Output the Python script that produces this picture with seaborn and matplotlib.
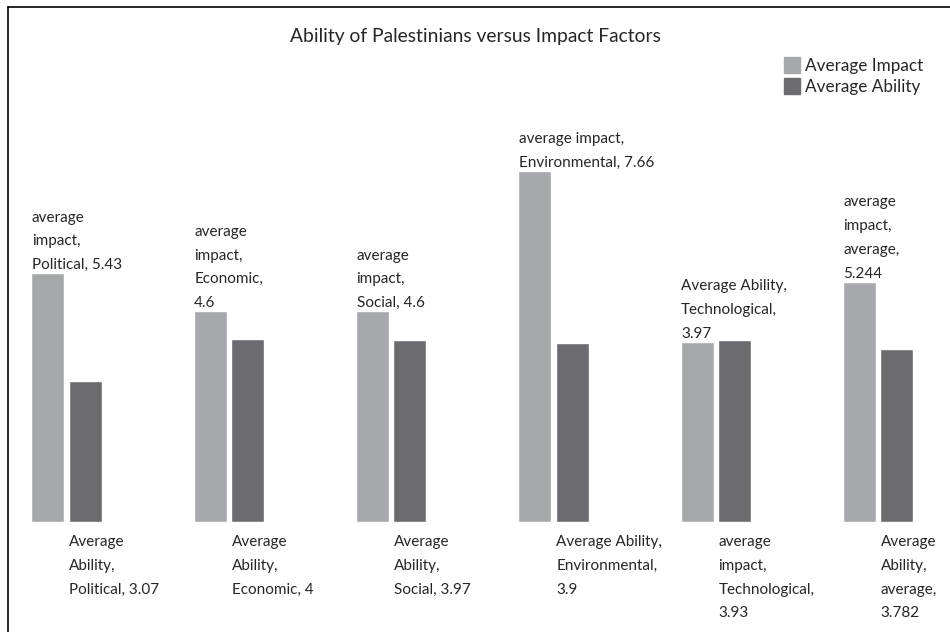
import matplotlib.pyplot as plt
import matplotlib.patches as mpatches
import seaborn as sns
import pandas as pd

categories = ['Political', 'Economic', 'Social', 'Environmental', 'Technological', 'average']
impact = [5.43, 4.6, 4.6, 7.66, 3.93, 5.244]
ability = [3.07, 4, 3.97, 3.9, 3.97, 3.782]
series = ['Average Impact', 'Average Ability']
colors = ['#A7A8AC', '#6B6B70']

# labels as they appear in the chart (above the light bars, below the dark bars)
top_labels = [
    'average\nimpact,\nPolitical, 5.43',
    'average\nimpact,\nEconomic,\n4.6',
    'average\nimpact,\nSocial, 4.6',
    'average impact,\nEnvironmental, 7.66',
    'Average Ability,\nTechnological,\n3.97',
    'average\nimpact,\naverage,\n5.244',
]
bottom_labels = [
    'Average\nAbility,\nPolitical, 3.07',
    'Average\nAbility,\nEconomic, 4',
    'Average\nAbility,\nSocial, 3.97',
    'Average Ability,\nEnvironmental,\n3.9',
    'average\nimpact,\nTechnological,\n3.93',
    'Average\nAbility,\naverage,\n3.782',
]

df = pd.DataFrame({
    'category': categories * 2,
    'value': impact + ability,
    'series': [series[0]] * len(categories) + [series[1]] * len(categories),
})

sns.set_style('white')
plt.rcParams['font.family'] = ['Lato', 'DejaVu Sans']

fig = plt.figure(figsize=(9.5, 6.32), dpi=100)
ax = fig.add_axes([0, 0, 1, 1])
sns.barplot(data=df, x='category', y='value', hue='series', palette=colors,
            width=0.46, gap=0.11, saturation=1, legend=False, ax=ax)
ax.set_xlim(-0.41, 5.443)
ax.set_ylim(-2.40, 11.40)
ax.axis('off')

fs = 11
ls = 1.88
for bar, txt in zip(ax.containers[0], top_labels):
    ax.annotate(txt, (bar.get_x(), bar.get_height()), xytext=(0.5, 1),
                textcoords='offset points', ha='left', va='bottom',
                fontsize=fs, color='#262626', linespacing=ls)
for bar, txt in zip(ax.containers[1], bottom_labels):
    ax.annotate(txt, (bar.get_x(), 0), xytext=(0.5, -9.5),
                textcoords='offset points', ha='left', va='top',
                fontsize=fs, color='#262626', linespacing=ls)

fig.text(0.5, 0.943, 'Ability of Palestinians versus Impact Factors',
         ha='center', va='center', fontsize=13.9, color='#262626')

handles = [mpatches.Patch(color=c, label=s) for c, s in zip(colors, series)]
fig.legend(handles=handles, loc='upper left', bbox_to_anchor=(0.818, 0.921),
           frameon=False, fontsize=12.3, handlelength=0.95, handleheight=1.1,
           handletextpad=0.3, labelspacing=0.25, borderaxespad=0)

# chart frame (top and left edges visible)
fig.add_artist(plt.Line2D([8 / 950, 1], [1 - 7 / 632, 1 - 7 / 632], color='black', lw=1.2))
fig.add_artist(plt.Line2D([8 / 950, 8 / 950], [0, 1 - 7 / 632], color='black', lw=1.2))

fig.savefig('out.png', dpi=100)
